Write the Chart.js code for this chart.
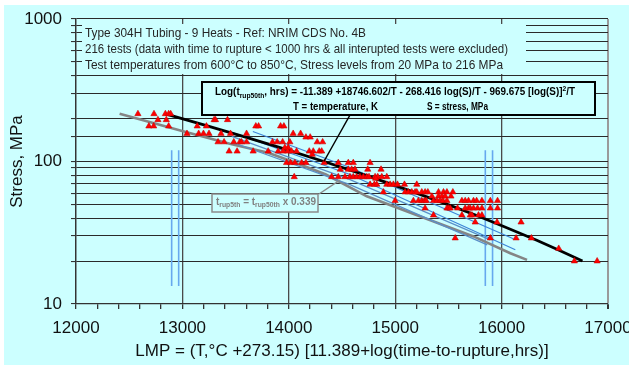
<!DOCTYPE html>
<html><head><meta charset="utf-8">
<script src="https://cdn.jsdelivr.net/npm/chart.js@4.4.1/dist/chart.umd.min.js"></script>
<style>html,body{margin:0;padding:0;background:#fff;overflow:hidden}canvas{display:block}</style>
</head><body>
<canvas id="c" width="629" height="367"></canvas>
<script>
const FONT = '"Liberation Sans", Arial, Helvetica, sans-serif';

// ---- data ----
const xTickLabels = [12000, 13000, 14000, 15000, 16000, 17000];
const yTickLabels = [10, 100, 1000];

// rupture tests: Larson-Miller parameter and stress (MPa)
const testLMP = [
  12582, 12733, 12840, 12871, 12890,
  12770, 12849, 13298, 13311, 13424,
  12685, 12730, 12871, 13139, 13226, 13690, 13716, 13923, 13954,
  13043, 13153, 13198, 13250, 13363, 13452, 13603, 14041, 14111,
  14161, 14201,
  13335, 13392, 13483, 13540, 13556, 13603, 13847, 13891, 13942, 14010, 14267, 14318,
  13963, 13994,
  13439, 13514, 13665, 13806, 13900, 13947, 13989, 14026, 14073, 14192, 14230, 14286, 14309,
  14220,
  13979, 14017, 14057, 14121, 14161, 14333, 14465, 14559, 14606, 14764,
  14484, 14559, 14591, 14622, 14742, 14867,
  14051, 14403, 14465, 14528, 14575, 14606, 14638, 14669, 14701, 14733, 14754, 14811, 14836, 14874, 14921,
  14817,
  14764, 14804, 14827, 14921, 14952, 14983, 15021, 15087, 15203,
  14889, 15093, 15124, 15156, 15187, 15203, 15250, 15281, 15307, 15407, 15454, 15486, 15542,
  15345, 15407, 15439, 15470, 15524,
  14999, 15171, 15218, 15250, 15275, 15291, 15360, 15392, 15423, 15448, 15486, 15627, 15658, 15689, 15736, 15765, 15815, 15894, 15962,
  15281, 15486, 15501, 15517, 15586, 15658, 15689, 15705, 15736, 15774, 15815, 15894, 15962,
  15360, 15627, 15705, 15721, 15783, 15815,
  15752, 15957, 16183,
  15564, 15894, 16136, 16280,
  16537,
  16684, 16898
];
const testStress = [
  216, 216, 216, 216, 216,
  196, 196, 196, 196, 196,
  177, 177, 177, 177, 177, 177, 177, 177, 177,
  157, 157, 157, 157, 157, 157, 157, 157, 157,
  148, 148,
  137, 137, 137, 137, 137, 137, 137, 137, 137, 137, 137, 137,
  125, 125,
  118, 118, 118, 118, 118, 118, 118, 118, 118, 118, 118, 118, 118,
  112,
  98, 98, 98, 98, 98, 98, 98, 98, 98, 98,
  88, 88, 88, 88, 88, 88,
  78, 78, 78, 78, 78, 78, 78, 78, 78, 78, 78, 78, 78, 78, 78,
  76,
  69, 69, 69, 69, 69, 69, 69, 69, 69,
  61, 61, 61, 61, 61, 61, 61, 61, 61, 61, 61, 61, 61,
  57, 57, 57, 57, 57,
  53, 53, 53, 53, 53, 53, 53, 53, 53, 53, 53, 53, 53, 53, 53, 53, 53, 53, 53,
  47, 47, 47, 47, 47, 47, 47, 47, 47, 47, 47, 47, 47,
  42, 42, 42, 42, 42, 42,
  37.5, 37.5, 37.5,
  29, 29, 29, 29,
  24.5,
  20, 20
];

// 50th percentile master curve (black)
const median50LMP    = [12840, 13210, 13570, 13920, 14330, 14620, 14950, 15200, 15490, 15760, 16020, 16330, 16530, 16760];
const median50Stress = [216, 180, 150, 125, 100, 85, 70, 60, 50, 42, 35, 28, 24, 20];

// 5th percentile curve (grey)
const lower5LMP    = [12410, 13006, 13445, 13806, 14026, 14349, 14733, 15736, 16082, 16239];
const lower5Stress = [216, 163, 133, 115, 100.5, 81, 57, 29.8, 22.7, 20.4];

// thin blue curves
const blue1LMP = [13662, 14575, 16110], blue1Stress = [162.5, 90.8, 28.7];
const blue2LMP = [13445, 14575, 16129], blue2Stress = [162.5, 81, 24];
const blue3LMP = [13464, 14575, 15893], blue3Stress = [150, 74.6, 28.2];
const blue4LMP = [13474, 14575, 15865], blue4Stress = [136, 68.8, 26];

// vertical blue markers
const markerLMP = [12899, 12965, 15847, 15915];
const markerStress = [120, 13.4];

// ---- helpers ----
const pts = (xs, ys) => xs.map((x, i) => ({x, y: ys[i]}));
const lineDs = (xs, ys, color, width) => ({
  data: pts(xs, ys), showLine: true, borderColor: color, borderWidth: width,
  pointRadius: 0, pointHoverRadius: 0, fill: false, tension: 0
});

function rich(ctx, segs, x, y, size, weight, color, width) {
  const f = s => `${weight} ${s}px ${FONT}`;
  let total = 0;
  const parts = segs.map(([t, m]) => {
    const s = m ? size * 0.68 : size;
    ctx.font = f(s);
    const w = ctx.measureText(t).width;
    total += w;
    return {t, m, s, w};
  });
  const k = width ? width / total : 1;
  ctx.save();
  ctx.translate(x, y); ctx.scale(k, 1);
  ctx.fillStyle = color; ctx.textBaseline = 'middle'; ctx.textAlign = 'left';
  let cx = 0;
  for (const p of parts) {
    ctx.font = f(p.s);
    const dy = p.m === 1 ? size * 0.3 : p.m === 2 ? -size * 0.35 : 0;
    ctx.fillText(p.t, cx, dy);
    cx += p.w;
  }
  ctx.restore();
}

const bgPlugin = {
  id: 'bg',
  beforeDraw(chart) {
    const c = chart.ctx;
    c.save();
    c.fillStyle = '#ffffff'; c.fillRect(0, 0, chart.width, chart.height);
    c.fillStyle = '#ccffff'; c.fillRect(4, 5, chart.width - 4, 360);
    c.restore();
  }
};

const overlayPlugin = {
  id: 'overlay',
  afterDraw(chart) {
    const c = chart.ctx;
    const xs = chart.scales.x, ys = chart.scales.y;
    c.save();
    // top note box
    c.fillStyle = '#ccffff'; c.fillRect(82, 24, 444, 50);
    rich(c, [['Type 304H Tubing - 9 Heats - Ref: NRIM CDS No. 4B', 0]], 85, 33, 13, 'normal', '#262626', 281);
    rich(c, [['216 tests (data with time to rupture < 1000 hrs & all interupted tests were excluded)', 0]], 85, 49, 13, 'normal', '#262626', 423);
    rich(c, [['Test temperatures from 600°C to 850°C, Stress levels from 20 MPa to 216 MPa', 0]], 85, 65, 13, 'normal', '#262626', 418);

    // equation leader
    c.strokeStyle = '#000'; c.lineWidth = 1.5;
    c.beginPath(); c.moveTo(350, 115);
    c.lineTo(xs.getPixelForValue(14330), ys.getPixelForValue(100)); c.stroke();
    // equation box
    c.fillStyle = '#ccffff'; c.fillRect(202, 82, 393, 33);
    c.strokeStyle = '#000'; c.lineWidth = 2; c.strokeRect(202, 82, 393, 33);
    rich(c, [['Log(t', 0], ['rup50th', 1], [', hrs) = -11.389 +18746.602/T - 268.416 log(S)/T - 969.675 [log(S)]', 0], ['2', 2], ['/T', 0]],
      215, 92.5, 10.5, 'bold', '#000', 360);
    rich(c, [['T = temperature, K', 0]], 293, 107, 10.5, 'bold', '#000', 85);
    rich(c, [['S = stress, MPa', 0]], 427, 107, 10.5, 'bold', '#000', 61);

    // 5th percentile label + leader
    c.strokeStyle = '#8c8c8c'; c.lineWidth = 1.5;
    c.beginPath(); c.moveTo(319, 194);
    c.lineTo(xs.getPixelForValue(14480), ys.getPixelForValue(74)); c.stroke();
    c.fillStyle = '#ccffff'; c.fillRect(212, 194, 106, 18);
    c.strokeStyle = '#8c8c8c'; c.lineWidth = 1.5; c.strokeRect(212, 194, 106, 18);
    rich(c, [['t', 0], ['rup5th', 1], [' = t', 0], ['rup50th', 1], [' x 0.339', 0]], 216, 202, 11, 'bold', '#808080', 100);
    c.restore();
  }
};

new Chart(document.getElementById('c'), {
  type: 'scatter',
  data: {
    datasets: [
      {label: 'tests', data: pts(testLMP, testStress), pointStyle: 'triangle', pointRadius: 3.6,
       backgroundColor: '#ff0000', borderColor: '#d00000', borderWidth: 0.6},
      lineDs(median50LMP, median50Stress, '#000000', 2.8),
      lineDs(blue1LMP, blue1Stress, '#3d85d8', 1.2),
      lineDs(blue2LMP, blue2Stress, '#3d85d8', 1.2),
      lineDs(blue3LMP, blue3Stress, '#5a8fc8', 1.2),
      lineDs(blue4LMP, blue4Stress, '#5a8fc8', 1.2),
      lineDs(lower5LMP, lower5Stress, '#858585', 2.6),
      ...markerLMP.map(m => lineDs([m, m], markerStress, '#66a8ee', 1.6))
    ]
  },
  options: {
    responsive: false, animation: false, devicePixelRatio: 1,
    layout: {padding: {top: 19, right: 21, bottom: 0, left: 0}},
    plugins: {legend: {display: false}, tooltip: {enabled: false}},
    scales: {
      x: {
        type: 'linear', min: xTickLabels[0], max: xTickLabels[xTickLabels.length - 1],
        ticks: {stepSize: 200, autoSkip: false, maxRotation: 0, padding: 9,
                font: {family: FONT, size: 17}, color: '#111',
                callback: v => xTickLabels.includes(v) ? String(v) : ''},
        grid: {
          color: c => (c.tick && xTickLabels.includes(c.tick.value)) ? (c.tick.value === 17000 ? '#9a9a9a' : '#4a4a4a') : 'rgba(0,0,0,0)',
          tickColor: '#333', tickLength: 5, lineWidth: c => (c.tick && c.tick.value === 17000) ? 2 : 1.3
        },
        border: {color: '#333', width: 1.3},
        title: {display: true, text: 'LMP = (T,°C +273.15) [11.389+log(time-to-rupture,hrs)]',
                font: {family: FONT, size: 17}, color: '#111', padding: {top: 0, bottom: 5}},
        afterFit(s) { s.height = 63; s.paddingLeft = 0; s.paddingRight = 0; }
      },
      y: {
        type: 'logarithmic', min: yTickLabels[0], max: yTickLabels[yTickLabels.length - 1],
        ticks: {autoSkip: false, padding: 9, font: {family: FONT, size: 17}, color: '#111',
                callback: v => yTickLabels.includes(v) ? String(v) : ''},
        grid: {color: '#2a2a2a', lineWidth: 1.1, tickColor: '#333', tickLength: 5},
        border: {color: '#333', width: 1.3},
        title: {display: true, text: 'Stress, MPa', font: {family: FONT, size: 17}, color: '#111', padding: {top: 7, bottom: 0}},
        afterFit(s) { s.width = 76; s.paddingTop = 0; s.paddingBottom = 0; }
      }
    }
  },
  plugins: [bgPlugin, overlayPlugin]
});
</script>
</body></html>
